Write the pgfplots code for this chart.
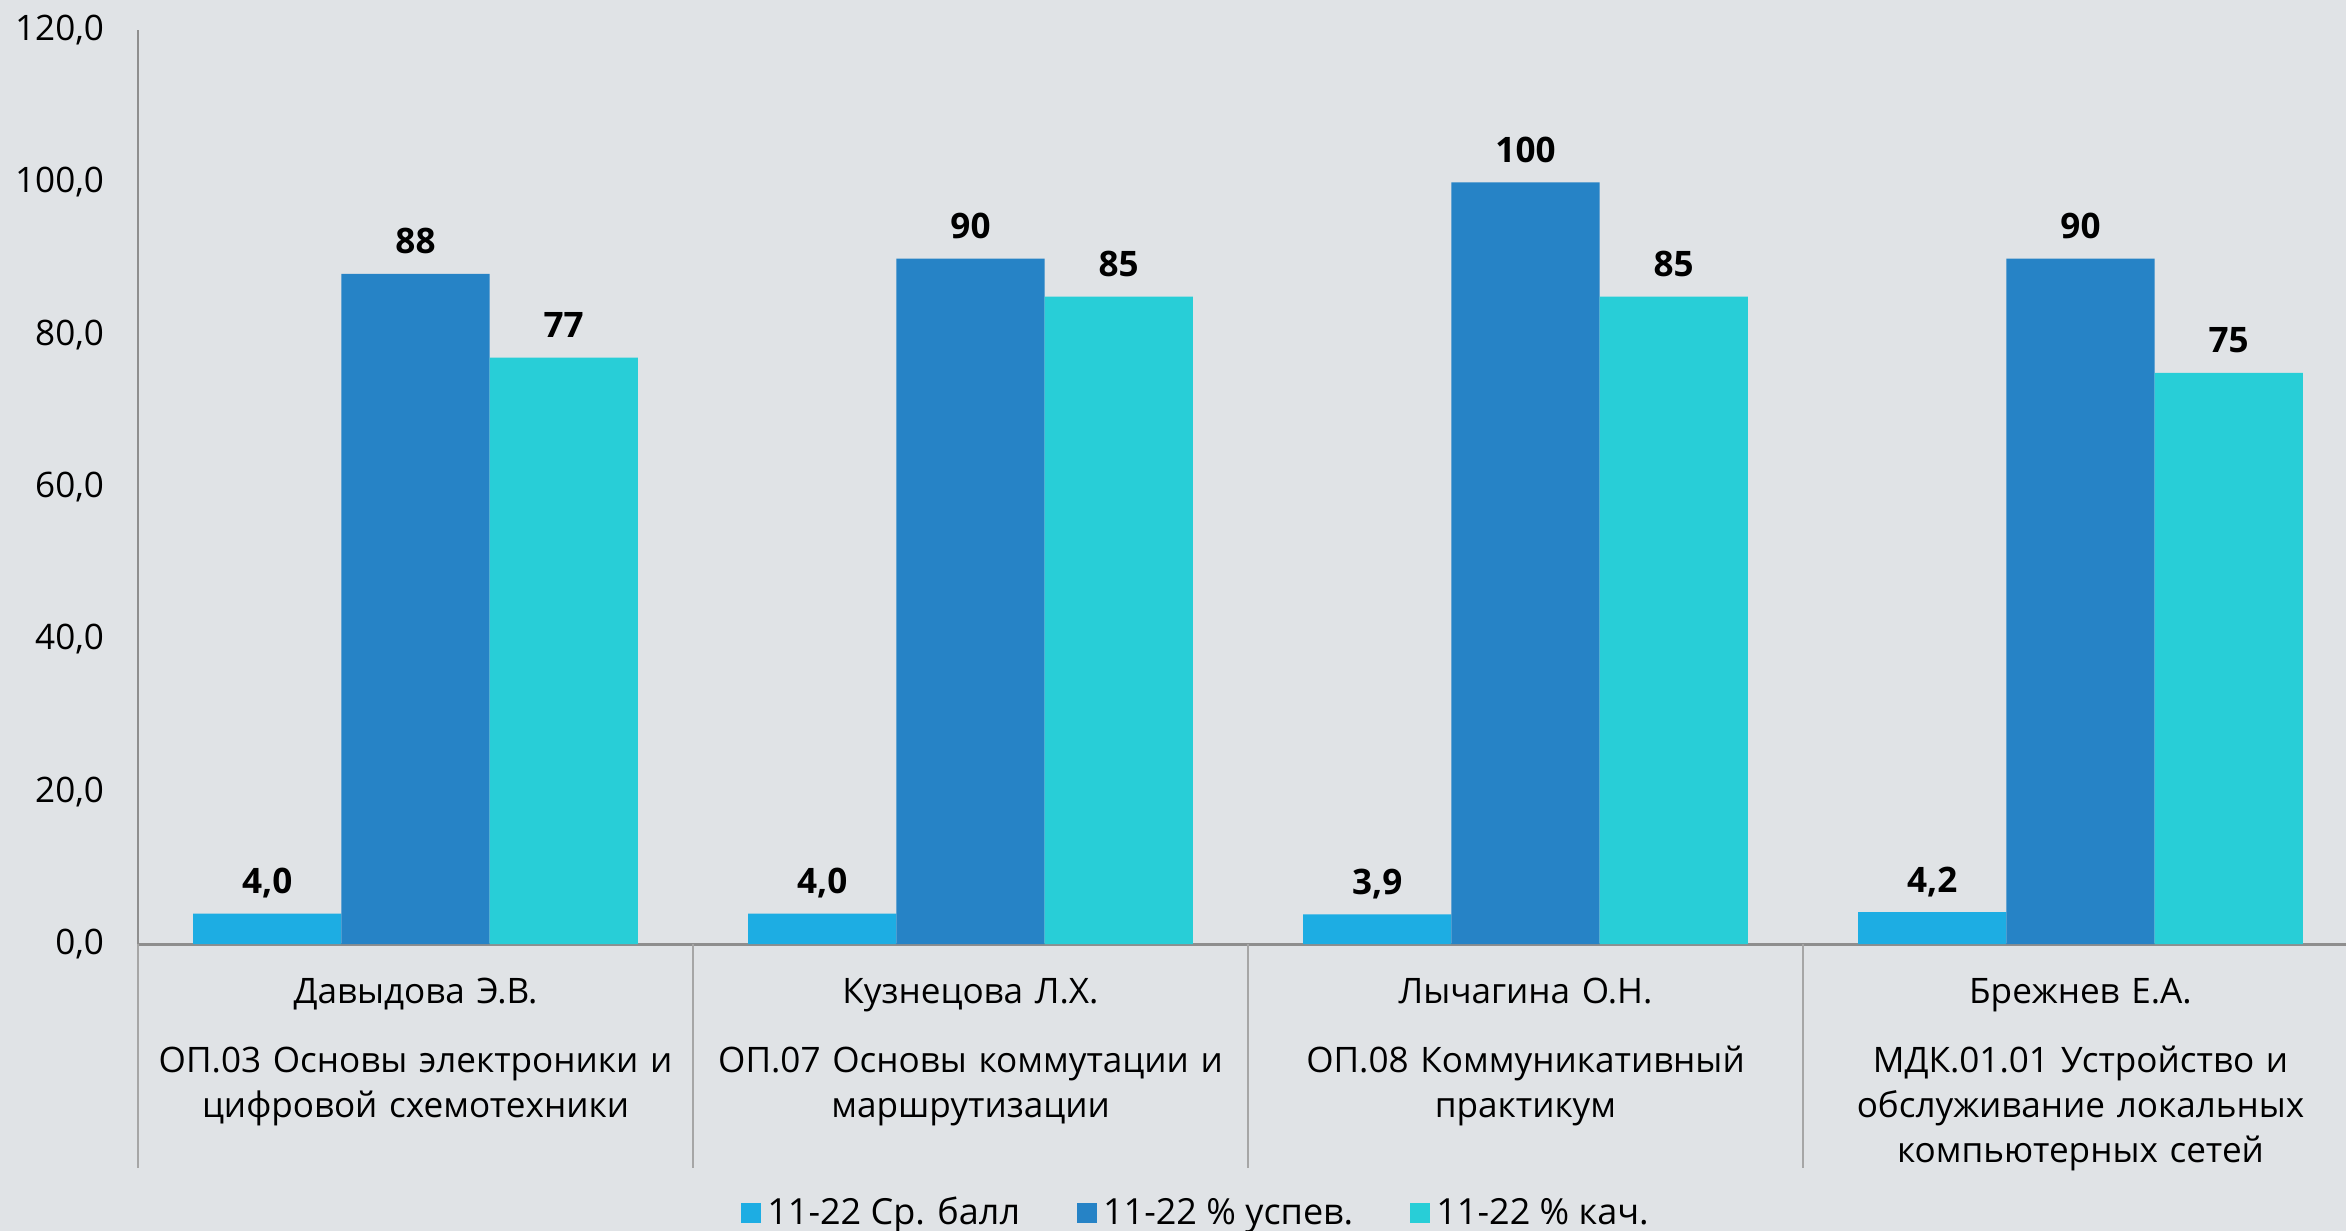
\documentclass[border=0pt]{standalone}
\usepackage{fontspec}
\setmainfont{Open Sans}
\usepackage{pgfplots}
\pgfplotsset{compat=1.18}
\definecolor{bg}{HTML}{E0E3E6}
\definecolor{c1}{HTML}{1DADE3}
\definecolor{c2}{HTML}{2683C6}
\definecolor{c3}{HTML}{28CED7}
\definecolor{axgray}{HTML}{8E8E8E}
\definecolor{sepgray}{HTML}{A6A6A6}
\begin{document}
\begin{tikzpicture}[font=\fontsize{11.7}{15}\selectfont]
\fill[bg] (0,0) rectangle (782pt,410.33pt);
\useasboundingbox (0,0) rectangle (782pt,410.33pt);
\begin{scope}
\clip (0,0) rectangle (782pt,410.33pt);
\begin{axis}[
  at={(46pt,95.6pt)}, anchor=south west,
  scale only axis, width=740pt, height=304.7pt,
  clip=false,
  ymin=0, ymax=120, ytick={0,20,40,60,80,100,120},
  xmin=-0.5, xmax=3.5, enlargelimits=false,
  axis x line=bottom, axis y line=left,
  axis line style={-},
  x axis line style={axgray, line width=1pt},
  y axis line style={axgray, line width=0.6pt},
  major tick length=0pt,
  ybar, bar width=0.267,
  xtick={0,1,2,3},
  xticklabels={
    {Давыдова Э.В.\\[8pt]ОП.03 Основы электроники и\\цифровой схемотехники},
    {Кузнецова Л.Х.\\[8pt]ОП.07 Основы коммутации и\\маршрутизации},
    {Лычагина О.Н.\\[8pt]ОП.08 Коммуникативный\\практикум},
    {Брежнев Е.А.\\[8pt]МДК.01.01 Устройство и\\обслуживание локальных\\компьютерных сетей}},
  xticklabel style={anchor=north, inner sep=0pt, text width=184pt, align=center, yshift=-9pt, execute at begin node=\strut},
  yticklabel style={xshift=-7.8pt, /pgf/number format/.cd, fixed, fixed zerofill, precision=1, use comma, assume math mode=true},
  nodes near coords style={font=\fontsize{11.7}{15}\selectfont\bfseries, anchor=base, inner sep=0pt, yshift=6.7pt},
  legend columns=3,
  legend style={draw=none, fill=none, at={(0.4775,-0.2944)}, anchor=center,
    font=\fontsize{12}{15}\selectfont,
    /tikz/every even column/.append style={column sep=17pt},
    /tikz/every odd column/.append style={column sep=0pt}},
  legend image code/.code={\fill[#1] (0pt,-3.35pt) rectangle (6.7pt,3.35pt);},
]
\addplot[fill=c1, draw=none, bar shift=-0.267,
  nodes near coords={\pgfmathprintnumber[fixed,fixed zerofill,precision=1,use comma,assume math mode=true]{\pgfplotspointmeta}}]
  coordinates {(0,4.0) (1,4.0) (2,3.9) (3,4.2)};
\addplot[fill=c2, draw=none, bar shift=0,
  nodes near coords={\pgfmathprintnumber[fixed,precision=0,assume math mode=true]{\pgfplotspointmeta}}]
  coordinates {(0,88) (1,90) (2,100) (3,90)};
\addplot[fill=c3, draw=none, bar shift=0.267,
  nodes near coords={\pgfmathprintnumber[fixed,precision=0,assume math mode=true]{\pgfplotspointmeta}}]
  coordinates {(0,77) (1,85) (2,85) (3,75)};
\legend{11-22 Ср. балл, 11-22 \% успев., 11-22 \% кач.}
\draw[sepgray, line width=0.4pt] (axis cs:-0.5,0) -- ++(0pt,-74.6pt);
\draw[sepgray, line width=0.4pt] (axis cs:0.5,0) -- ++(0pt,-74.6pt);
\draw[sepgray, line width=0.4pt] (axis cs:1.5,0) -- ++(0pt,-74.6pt);
\draw[sepgray, line width=0.4pt] (axis cs:2.5,0) -- ++(0pt,-74.6pt);
\end{axis}
\end{scope}
\end{tikzpicture}
\end{document}
